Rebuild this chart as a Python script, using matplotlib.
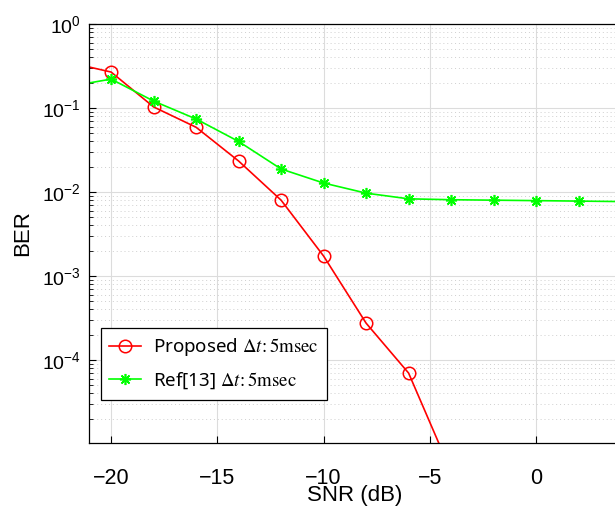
import matplotlib
matplotlib.use("Agg")
import matplotlib.pyplot as plt
from matplotlib.ticker import LogLocator, NullFormatter, MultipleLocator, NullLocator

# values (SNR in dB, BER)
snr_prop = [-22, -20, -18, -16, -14, -12, -10, -8, -6, -4]
ber_prop = [0.35, 0.268, 0.103, 0.059, 0.0234, 0.0080, 0.00173, 2.75e-4, 7.0e-5, 4.7e-6]

snr_ref = [-22, -20, -18, -16, -14, -12, -10, -8, -6, -4, -2, 0, 2, 4]
ber_ref = [0.18, 0.221, 0.121, 0.074, 0.040, 0.0188, 0.0128, 0.0097, 0.0083, 0.0081,
           0.0080, 0.0079, 0.0078, 0.0077]

labels = [r"Proposed $\Delta t\!:\mathrm{5msec}$", r"Ref[13] $\Delta t\!:\mathrm{5msec}$"]

plt.rcParams["font.family"] = ["Liberation Sans", "DejaVu Sans"]
plt.rcParams["mathtext.fontset"] = "stix"

W, H = 615, 507
x0, y0, y1 = 89, 24, 443          # axes box in pixels
px_per_db = 21.25

fig = plt.figure(figsize=(W / 100, H / 100), dpi=100)
ax = fig.add_axes([x0 / W, 1 - y1 / H, (W - x0) / W, (y1 - y0) / H])

ax.semilogy(snr_prop, ber_prop, color=(1, 0, 0), lw=1.2, marker="o", ms=9,
            mfc="none", mec=(1, 0, 0), mew=1.1, label=labels[0])
ax.semilogy(snr_ref, ber_ref, color=(0, 1, 0), lw=1.2, marker=(8, 2, 0), ms=8,
            mec=(0, 1, 0), mew=1.2, label=labels[1])

ax.set_xlim(-21.04, -21.04 + (W - x0) / px_per_db)
ax.set_ylim(1.03e-5, 1)
ax.xaxis.set_major_locator(MultipleLocator(5))
ax.xaxis.set_minor_locator(NullLocator())
ax.yaxis.set_major_locator(LogLocator(base=10, numticks=10))
ax.yaxis.set_minor_locator(LogLocator(base=10, subs=range(2, 10), numticks=20))
ax.yaxis.set_minor_formatter(NullFormatter())

ax.grid(True, which="major", color="#dcdcdc", lw=0.8)
ax.grid(True, which="minor", axis="y", color="#cfcfcf", lw=0.7, ls=(0, (1, 3)))
ax.tick_params(which="both", direction="in", top=False, right=False)
ax.tick_params(which="major", length=5)
ax.tick_params(which="minor", length=3)
ax.tick_params(axis="y", labelsize=14, pad=6)
ax.tick_params(axis="x", labelsize=15.5, pad=18)
for s in ax.spines.values():
    s.set_linewidth(0.9)
ax.spines["right"].set_visible(False)

ax.set_xlabel("SNR (dB)", fontsize=16)
ax.xaxis.set_label_coords(0.506, -0.1)
ax.set_ylabel("BER", fontsize=16, labelpad=6)

leg = ax.legend(loc="upper left", bbox_to_anchor=(101 / W, 1 - 328 / H),
                bbox_transform=fig.transFigure, borderaxespad=0,
                prop={"family": ["Noto Sans", "DejaVu Sans"], "size": 13.5},
                fancybox=False, edgecolor="black", framealpha=1, borderpad=0.45,
                handlelength=1.7, handletextpad=0.6, labelspacing=0.65)
leg.get_frame().set_linewidth(0.9)

fig.savefig("out.png", dpi=100)
